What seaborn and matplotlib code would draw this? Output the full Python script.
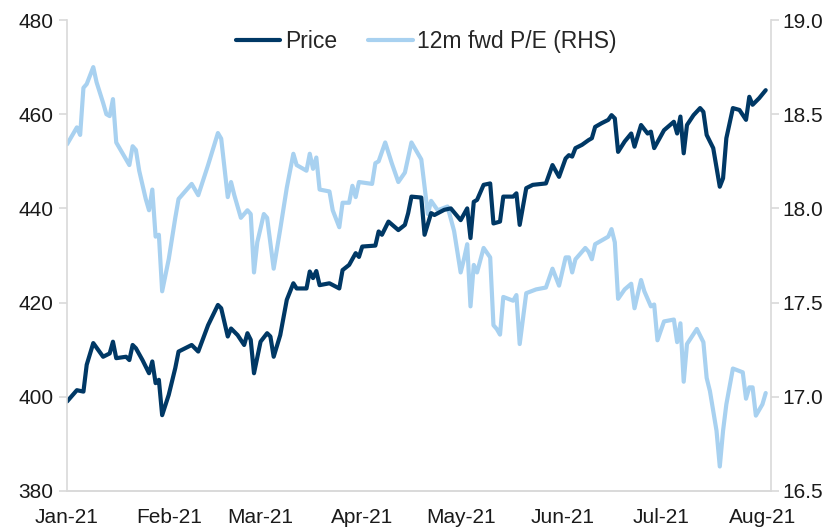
import pandas as pd
import matplotlib.pyplot as plt
import matplotlib.dates as mdates
import seaborn as sns

# Price (LHS), values
price_dates = [
    "2021-01-01", "2021-01-04", "2021-01-06", "2021-01-07", "2021-01-09", "2021-01-12",
    "2021-01-14", "2021-01-15", "2021-01-16", "2021-01-19", "2021-01-20", "2021-01-21",
    "2021-01-22", "2021-01-24", "2021-01-26", "2021-01-27", "2021-01-28", "2021-01-29",
    "2021-01-30", "2021-02-01", "2021-02-03", "2021-02-04", "2021-02-08", "2021-02-10",
    "2021-02-13", "2021-02-16", "2021-02-17", "2021-02-19", "2021-02-20", "2021-02-22",
    "2021-02-24", "2021-02-25", "2021-02-26", "2021-02-27", "2021-03-01", "2021-03-03",
    "2021-03-04", "2021-03-05", "2021-03-07", "2021-03-09", "2021-03-11", "2021-03-12",
    "2021-03-15", "2021-03-16", "2021-03-17", "2021-03-18", "2021-03-19", "2021-03-22",
    "2021-03-25", "2021-03-26", "2021-03-28", "2021-03-30", "2021-03-31", "2021-04-01",
    "2021-04-05", "2021-04-06", "2021-04-07", "2021-04-09", "2021-04-12", "2021-04-14",
    "2021-04-15", "2021-04-16", "2021-04-19", "2021-04-20", "2021-04-22", "2021-04-23",
    "2021-04-26", "2021-04-28", "2021-05-01", "2021-05-03", "2021-05-04", "2021-05-05",
    "2021-05-06", "2021-05-08", "2021-05-10", "2021-05-11", "2021-05-13", "2021-05-14",
    "2021-05-17", "2021-05-18", "2021-05-19", "2021-05-21", "2021-05-23", "2021-05-27",
    "2021-05-29", "2021-05-31", "2021-06-02", "2021-06-03", "2021-06-04", "2021-06-05",
    "2021-06-07", "2021-06-09", "2021-06-10", "2021-06-11", "2021-06-13", "2021-06-15",
    "2021-06-16", "2021-06-17", "2021-06-18", "2021-06-20", "2021-06-22", "2021-06-23",
    "2021-06-25", "2021-06-27", "2021-06-28", "2021-06-29", "2021-07-02", "2021-07-05",
    "2021-07-06", "2021-07-07", "2021-07-08", "2021-07-09", "2021-07-11", "2021-07-13",
    "2021-07-14", "2021-07-15", "2021-07-17", "2021-07-19", "2021-07-20", "2021-07-21",
    "2021-07-23", "2021-07-25", "2021-07-27", "2021-07-28", "2021-07-29", "2021-07-31",
    "2021-08-02",
]
price = [
    399.0, 401.4, 401.1, 406.8, 411.4, 408.5,
    409.2, 411.7, 408.2, 408.5, 407.8, 411.0,
    410.3, 407.8, 405.0, 407.5, 402.9, 403.6,
    396.1, 400.4, 406.1, 409.6, 411.0, 409.6,
    415.2, 419.5, 418.8, 412.8, 414.5, 413.1,
    411.0, 413.5, 412.1, 405.0, 411.7, 413.5,
    412.8, 408.5, 413.1, 420.6, 424.1, 423.0,
    423.0, 426.6, 425.2, 426.7, 423.7, 424.1,
    423.0, 426.9, 428.0, 430.5, 429.7, 431.9,
    432.1, 435.1, 434.4, 437.2, 435.4, 436.5,
    439.0, 442.5, 442.3, 434.4, 439.0, 438.6,
    439.7, 440.0, 437.5, 440.0, 433.7, 441.4,
    441.8, 445.0, 445.3, 436.8, 437.2, 442.5,
    442.5, 443.2, 436.5, 444.3, 445.0, 445.3,
    449.2, 446.7, 450.6, 451.3, 451.0, 452.8,
    453.5, 454.5, 454.9, 457.3, 458.1, 458.8,
    459.8, 459.1, 452.0, 454.2, 455.9, 453.1,
    457.7, 455.9, 456.3, 452.8, 456.6, 458.4,
    455.9, 459.5, 451.7, 457.7, 459.8, 461.3,
    460.5, 455.6, 452.8, 444.6, 446.4, 454.9,
    461.3, 460.9, 458.8, 463.7, 462.0, 463.4,
    465.1,
]

# 12m forward P/E (RHS)
pe_dates = [
    "2021-01-01", "2021-01-04", "2021-01-05", "2021-01-06", "2021-01-07", "2021-01-09",
    "2021-01-10", "2021-01-12", "2021-01-13", "2021-01-14", "2021-01-15", "2021-01-16",
    "2021-01-18", "2021-01-20", "2021-01-21", "2021-01-22", "2021-01-23", "2021-01-25",
    "2021-01-26", "2021-01-27", "2021-01-28", "2021-01-29", "2021-01-30", "2021-02-01",
    "2021-02-03", "2021-02-04", "2021-02-06", "2021-02-08", "2021-02-10", "2021-02-13",
    "2021-02-16", "2021-02-17", "2021-02-19", "2021-02-20", "2021-02-21", "2021-02-23",
    "2021-02-25", "2021-02-26", "2021-02-27", "2021-02-28", "2021-03-02", "2021-03-03",
    "2021-03-05", "2021-03-07", "2021-03-09", "2021-03-11", "2021-03-12", "2021-03-15",
    "2021-03-16", "2021-03-17", "2021-03-18", "2021-03-19", "2021-03-22", "2021-03-23",
    "2021-03-25", "2021-03-26", "2021-03-28", "2021-03-29", "2021-03-30", "2021-03-31",
    "2021-04-04", "2021-04-05", "2021-04-06", "2021-04-08", "2021-04-10", "2021-04-12",
    "2021-04-14", "2021-04-16", "2021-04-18", "2021-04-19", "2021-04-21", "2021-04-22",
    "2021-04-24", "2021-04-27", "2021-04-29", "2021-05-01", "2021-05-02", "2021-05-03",
    "2021-05-04", "2021-05-05", "2021-05-06", "2021-05-08", "2021-05-10", "2021-05-11",
    "2021-05-12", "2021-05-13", "2021-05-14", "2021-05-17", "2021-05-18", "2021-05-19",
    "2021-05-21", "2021-05-24", "2021-05-27", "2021-05-29", "2021-05-31", "2021-06-02",
    "2021-06-03", "2021-06-04", "2021-06-05", "2021-06-08", "2021-06-09", "2021-06-10",
    "2021-06-11", "2021-06-13", "2021-06-15", "2021-06-16", "2021-06-17", "2021-06-18",
    "2021-06-20", "2021-06-22", "2021-06-23", "2021-06-25", "2021-06-26", "2021-06-28",
    "2021-06-29", "2021-06-30", "2021-07-02", "2021-07-05", "2021-07-06", "2021-07-07",
    "2021-07-08", "2021-07-09", "2021-07-12", "2021-07-14", "2021-07-15", "2021-07-16",
    "2021-07-18", "2021-07-19", "2021-07-20", "2021-07-21", "2021-07-23", "2021-07-26",
    "2021-07-27", "2021-07-28", "2021-07-29", "2021-07-30", "2021-08-01", "2021-08-02",
]
pe = [
    18.34, 18.43, 18.39, 18.64, 18.66, 18.75,
    18.67, 18.56, 18.50, 18.49, 18.58, 18.35,
    18.29, 18.23, 18.33, 18.31, 18.20, 18.05,
    17.99, 18.10, 17.85, 17.86, 17.56, 17.73,
    17.95, 18.05, 18.09, 18.13, 18.07, 18.23,
    18.40, 18.37, 18.06, 18.14, 18.07, 17.95,
    17.99, 17.97, 17.66, 17.82, 17.97, 17.95,
    17.68, 17.89, 18.11, 18.29, 18.23, 18.20,
    18.29, 18.21, 18.27, 18.10, 18.09, 17.99,
    17.90, 18.03, 18.03, 18.12, 18.06, 18.14,
    18.13, 18.24, 18.25, 18.35, 18.24, 18.14,
    18.19, 18.35, 18.29, 18.26, 17.97, 18.04,
    17.99, 18.01, 17.88, 17.66, 17.73, 17.81,
    17.48, 17.70, 17.66, 17.79, 17.74, 17.38,
    17.36, 17.33, 17.53, 17.51, 17.54, 17.28,
    17.55, 17.57, 17.58, 17.68, 17.59, 17.74,
    17.74, 17.66, 17.73, 17.79, 17.77, 17.73,
    17.81, 17.83, 17.85, 17.89, 17.82, 17.52,
    17.57, 17.60, 17.47, 17.62, 17.56, 17.48,
    17.49, 17.30, 17.40, 17.41, 17.29, 17.39,
    17.08, 17.28, 17.36, 17.29, 17.10, 17.03,
    16.82, 16.63, 16.82, 16.96, 17.15, 17.13,
    16.99, 17.05, 17.05, 16.90, 16.96, 17.02,
]

price_df = pd.DataFrame({"date": pd.to_datetime(price_dates), "price": price})
pe_df = pd.DataFrame({"date": pd.to_datetime(pe_dates), "pe": pe})

NAVY = "#003865"
LIGHT = "#a8d1f0"
GREY = "#d9d9d9"

sns.set_style("white")
plt.rcParams["font.family"] = ["Liberation Sans", "DejaVu Sans"]

fig = plt.figure(figsize=(8.4, 5.32), dpi=100)
ax = fig.add_axes([0.0798, 0.0771, 0.8381, 0.8853])
ax2 = ax.twinx()

sns.lineplot(data=price_df, x="date", y="price", ax=ax, color=NAVY,
             linewidth=3.0, label="Price", legend=False)
sns.lineplot(data=pe_df, x="date", y="pe", ax=ax2, color=LIGHT,
             linewidth=3.0, label="12m fwd P/E (RHS)", legend=False)

# keep the price line on top
ax.set_zorder(ax2.get_zorder() + 1)
ax.patch.set_visible(False)

ax.set_ylim(380, 480)
ax.set_yticks([380, 400, 420, 440, 460, 480])
ax2.set_ylim(16.5, 19.0)
ax2.set_yticks([16.5, 17.0, 17.5, 18.0, 18.5, 19.0])
ax2.yaxis.set_major_formatter(plt.FuncFormatter(lambda v, p: f"{v:.1f}"))

ax.set_xlim(pd.Timestamp("2021-01-01"), pd.Timestamp("2021-08-03 15:00"))
ax.xaxis.set_major_locator(mdates.MonthLocator())
ax.xaxis.set_major_formatter(mdates.DateFormatter("%b-%y"))

for a in (ax, ax2):
    a.set_xlabel("")
    a.set_ylabel("")
    a.spines["top"].set_visible(False)
    for s in ("left", "right", "bottom"):
        a.spines[s].set_color(GREY)
        a.spines[s].set_linewidth(1.2)
    a.tick_params(axis="both", colors=GREY, labelcolor="#1a1a1a",
                  labelsize=15, length=6, width=1.2, direction="out")
ax.spines["right"].set_visible(False)
ax2.spines["left"].set_visible(False)
ax.tick_params(axis="x", pad=6)
ax.tick_params(axis="y", pad=4)
ax2.tick_params(axis="y", pad=2)

h1, l1 = ax.get_legend_handles_labels()
h2, l2 = ax2.get_legend_handles_labels()
ax.legend(h1 + h2, l1 + l2, loc="center", bbox_to_anchor=(0.51, 0.955),
          ncol=2, frameon=False, fontsize=16.5, handlelength=1.95,
          columnspacing=1.35, handletextpad=0.2)

fig.savefig("out.png", dpi=100)
